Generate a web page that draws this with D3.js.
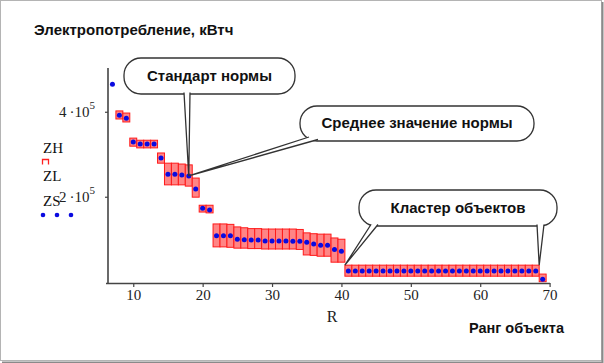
<!DOCTYPE html>
<html>
<head>
<meta charset="utf-8">
<script src="https://cdn.jsdelivr.net/npm/d3@7"></script>
<style>
  body { margin: 0; background: #fff; }
  svg { display: block; }
  .serif { font-family: "Liberation Serif", "Times New Roman", serif; }
  .bold { font-family: "Liberation Sans", Arial, sans-serif; font-weight: bold; }
</style>
</head>
<body>
<svg id="chart" width="604" height="363"></svg>
<script>
// ranks of objects
var rank = d3.range(7, 70);

// mean value of the norm (ZS), upper (ZH) and lower (ZL) bound, kWh
var ZS = [465000, 392000, 385000, 329000, 324000, 324000, 324000, 291000,
    253000, 253000, 251000, 249000, 218000, 173000, 169000,
    108000, 108000, 108000, 100000, 99000, 98000, 98000, 96000, 96000, 96000, 96000, 95000, 95000,
    93000, 89000, 86000, 86000, 76000, 72000,
    25000, 25000, 25000, 25000, 25000, 25000, 25000, 25000, 25000, 25000, 25000, 25000, 25000, 25000,
    25000, 25000, 25000, 25000, 25000, 25000, 25000, 25000, 25000, 25000, 25000, 25000, 25000, 25000,
    6000];
var ZH = [null, 402000, 397000, 338000, 333000, 333000, 333000, 303000,
    279000, 279000, 277000, 275000, 244000, 180000, 180000,
    136000, 136000, 135000, 129000, 127000, 125000, 125000, 124000, 124000, 124000, 124000, 124000, 123000,
    115000, 113000, 112000, 112000, 103000, 100000,
    39000, 39000, 39000, 39000, 39000, 39000, 39000, 39000, 39000, 39000, 39000, 39000, 39000, 39000,
    39000, 39000, 39000, 39000, 39000, 39000, 39000, 39000, 39000, 39000, 39000, 39000, 39000, 39000,
    18000];
var ZL = [null, 383000, 376000, 319000, 315000, 315000, 315000, 279000,
    228000, 228000, 228000, 225000, 199000, 164000, 162000,
    82000, 82000, 81000, 79000, 79000, 78000, 78000, 77000, 77000, 77000, 77000, 77000, 76000,
    63000, 62000, 60000, 60000, 46000, 46000,
    13000, 13000, 13000, 13000, 13000, 13000, 13000, 13000, 13000, 13000, 13000, 13000, 13000, 13000,
    13000, 13000, 13000, 13000, 13000, 13000, 13000, 13000, 13000, 13000, 13000, 13000, 13000, 13000,
    0];

var xTicks = [10, 20, 30, 40, 50, 60, 70];
var yTicks = [200000, 400000];

var svg = d3.select("#chart");

var x = d3.scaleLinear().domain([6, 70]).range([105.5, 549.6]),
    y = d3.scaleLinear().domain([-3000, 503000]).range([283, 68]);

var data = rank.map(function (r, i) {
    return {r: r, zs: ZS[i], zh: ZH[i], zl: ZL[i]};
});
function at(r) { return data[rank.indexOf(r)]; }

// frame
svg.append("rect").attr("x", 0.5).attr("y", 0.5).attr("width", 601).attr("height", 360)
    .attr("fill", "#fff").attr("stroke", "#b4b4b4");
svg.append("path").attr("d", "M602.5,2V362.5H2").attr("fill", "none")
    .attr("stroke", "#8a8a8a").attr("stroke-width", 2);

// title and axis names
svg.append("text").attr("class", "bold").attr("x", 34).attr("y", 35)
    .attr("font-size", 15).attr("fill", "#111").text("Электропотребление, кВтч");
svg.append("text").attr("class", "bold").attr("x", 564).attr("y", 333)
    .attr("text-anchor", "end").attr("font-size", 14.5).attr("fill", "#111").text("Ранг объекта");
svg.append("text").attr("class", "serif").attr("x", 332).attr("y", 322)
    .attr("text-anchor", "middle").attr("font-size", 16).attr("fill", "#222").text("R");

// boxes ZL..ZH
svg.append("g").selectAll("rect")
    .data(data.filter(function (d) { return d.zh !== null; }))
    .enter().append("rect")
    .attr("x", function (d) { return x(d.r - 0.5); })
    .attr("width", function (d) { return x(d.r + 0.5) - x(d.r - 0.5); })
    .attr("y", function (d) { return y(d.zh); })
    .attr("height", function (d) { return y(d.zl) - y(d.zh); })
    .attr("fill", "#ff8585")
    .attr("stroke", "#ff1a1a")
    .attr("stroke-width", 1);

// mean points ZS
svg.append("g").selectAll("circle")
    .data(data)
    .enter().append("circle")
    .attr("cx", function (d) { return x(d.r); })
    .attr("cy", function (d) { return y(d.zs); })
    .attr("r", 2.5)
    .attr("fill", "#0a0ae0");

// axes
var xAxis = svg.append("g")
    .attr("transform", "translate(0,283)")
    .call(d3.axisBottom(x).tickValues(xTicks).tickSize(4).tickPadding(2.5).tickSizeOuter(0));
xAxis.select(".domain").attr("stroke", "#444").attr("stroke-width", 1.6);
xAxis.selectAll(".tick line").attr("stroke", "#444").attr("stroke-width", 1.2);
xAxis.selectAll(".tick text").attr("class", "serif").attr("font-size", 15).attr("fill", "#222");

var yAxis = svg.append("g")
    .attr("transform", "translate(108,0)")
    .call(d3.axisLeft(y).tickValues(yTicks).tickSize(3).tickSizeOuter(0).tickFormat(""));
yAxis.select(".domain").attr("d", "M0,68V283").attr("stroke", "#444").attr("stroke-width", 1.6);
yAxis.selectAll(".tick line").attr("stroke", "#444").attr("stroke-width", 1.2);

yTicks.forEach(function (v) {
    var t = svg.append("text").attr("class", "serif").attr("font-size", 15).attr("fill", "#222")
        .attr("x", 95).attr("y", y(v) + 5).attr("text-anchor", "end");
    t.append("tspan").text((v / 100000) + "\u2009·10");
    t.append("tspan").attr("dy", -8).attr("font-size", 11).text("5");
});

// legend of traces
var leg = svg.append("g").attr("class", "serif").attr("fill", "#111").attr("font-size", 15);
leg.append("text").attr("x", 43).attr("y", 153).text("ZH");
svg.append("path").attr("d", "M42.5,164.5V159.5H48.5V164.5").attr("fill", "none")
    .attr("stroke", "#ff2020").attr("stroke-width", 1.3);
leg.append("text").attr("x", 43).attr("y", 181).text("ZL");
leg.append("text").attr("x", 43).attr("y", 206).text("ZS");
[43, 57, 71].forEach(function (cx) {
    svg.append("circle").attr("cx", cx).attr("cy", 215).attr("r", 2.3).attr("fill", "#0a0ae0");
});

// callouts
function callout(box, label, baseline, tails) {
    var g = svg.append("g");
    g.append("rect").attr("x", box[0]).attr("y", box[1])
        .attr("width", box[2] - box[0]).attr("height", box[3] - box[1])
        .attr("rx", 17).attr("ry", 17)
        .attr("fill", "#fff").attr("stroke", "#333").attr("stroke-width", 1.3);
    tails.forEach(function (t) {
        g.append("path").attr("d", "M" + t.a + "L" + t.tip + "L" + t.b + "Z")
            .attr("fill", "#fff").attr("stroke", "none");
        g.append("path").attr("d", "M" + t.a + "L" + t.tip + "L" + t.b)
            .attr("fill", "none").attr("stroke", "#333").attr("stroke-width", 1.3);
    });
    g.append("text").attr("class", "bold").attr("font-size", 15).attr("fill", "#111")
        .attr("x", (box[0] + box[2]) / 2).attr("y", baseline)
        .attr("text-anchor", "middle").text(label);
}

var p18 = [x(18), y(at(18).zs)];
callout([124, 58, 295, 94], "Стандарт нормы", 81,
    [{a: [184, 92.5], b: [190, 92.5], tip: p18}]);
callout([300, 106, 534, 141], "Среднее значение нормы", 128,
    [{a: [309, 137], b: [318, 139.5], tip: p18}]);
callout([359, 190, 557, 226], "Кластер объектов", 213,
    [{a: [371, 224.5], b: [378, 224.5], tip: [x(40.5), y(at(41).zh)]},
     {a: [537, 224.5], b: [544, 224.5], tip: [x(68.5), y(at(68).zh)]}]);
</script>
</body>
</html>
